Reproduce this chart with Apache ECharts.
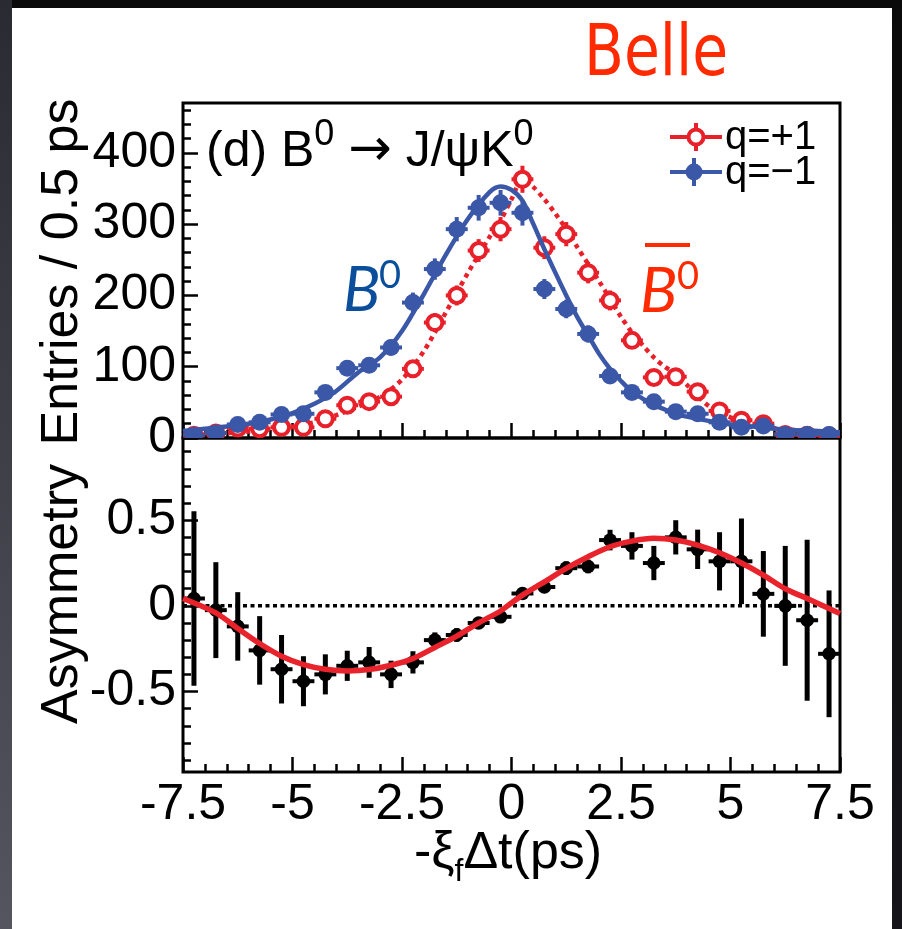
<!DOCTYPE html>
<html><head><meta charset="utf-8">
<script src="https://cdn.jsdelivr.net/npm/echarts@6/dist/echarts.min.js"></script>
<style>
html,body{margin:0;padding:0;width:902px;height:929px;overflow:hidden;background:#0c0c0c;}
#bg{position:absolute;left:0;top:0;width:902px;height:929px;background:linear-gradient(180deg,#0a0a0a 0%,#16161a 100%);}
#strip{position:absolute;left:0;top:0;width:12px;height:929px;background:linear-gradient(180deg,#2a2a32,#55555f);}
#panel{position:absolute;left:12px;top:8px;width:880px;height:921px;background:#fff;}
#chart{position:absolute;left:0;top:0;width:902px;height:929px;}
</style></head><body>
<div id="bg"></div><div id="strip"></div><div id="panel"></div><div id="chart"></div>
<script>
// ---- data ----
const binCenters = [-7.25,-6.75,-6.25,-5.75,-5.25,-4.75,-4.25,-3.75,-3.25,-2.75,-2.25,-1.75,-1.25,-0.75,-0.25,
                     0.25,0.75,1.25,1.75,2.25,2.75,3.25,3.75,4.25,4.75,5.25,5.75,6.25,6.75,7.25];
const binHalfWidth = 0.25;
const qPlus  = [4,7,14,13,15,15,27,46,51,58,97,162,200,263,293,363,267,286,232,193,137,85,86,65,38,25,20,5,4,3];
const qPlusErr  = [2,3,4,4,4,4,5,7,7,8,10,13,14,16,17,19,16,17,15,14,12,9,9,8,6,5,4,2,2,2];
const qMinus = [4,7,19,22,33,34,64,98,102,127,190,237,293,323,330,316,209,181,146,87,64,51,37,34,22,15,17,5,5,5];
const qMinusErr = [2,3,4,5,6,6,8,10,10,11,14,15,17,18,18,18,14,13,12,9,8,7,6,6,5,4,4,2,2,2];
const asym    = [0.043,-0.025,-0.12,-0.26,-0.37,-0.44,-0.40,-0.35,-0.33,-0.40,-0.33,-0.20,-0.17,-0.10,-0.064,
                 0.072,0.11,0.22,0.23,0.384,0.35,0.25,0.40,0.33,0.26,0.26,0.07,0.0,-0.084,-0.28];
const asymErr = [0.51,0.28,0.20,0.20,0.20,0.146,0.117,0.088,0.09,0.08,0.065,0.045,0.04,0.035,0.035,
                 0.03,0.035,0.04,0.04,0.06,0.08,0.10,0.10,0.115,0.17,0.25,0.25,0.35,0.47,0.37];
// fit curves
const fitX    = [-7.5,-7,-6.5,-6,-5.5,-5,-4.5,-4,-3.5,-3,-2.5,-2,-1.5,-1,-0.5,-0.25,0,0.25,0.5,0.75,
                 1,1.25,1.5,1.75,2,2.25,2.5,2.75,3,3.25,3.5,3.75,4,4.5,5,5.5,6,6.5,7,7.5];
const fitBlue = [10,13,16,20,26,35,48,66,92,113,150,202,257,307,345,353,348,333,300,265,
                 232,200,170,144,118,97,80,65,55,46,40,34,30,24,19,16,13,11,10,8];
const fitRed  = [4,5,7,9,12,16,22,32,44,58,82,122,176,231,282,305,335,362,352,335,
                 315,293,268,244,220,195,170,148,130,113,100,90,75,45,29,19,14,11,9,7];
const asymFitX = [-7.5,-6.75,-6.25,-5.75,-5.25,-4.75,-4.25,-3.75,-3.25,-2.75,-2.25,-1.75,-1.25,-0.75,-0.25,0,
                  0.25,0.75,1.25,1.75,2.25,2.75,3.25,3.75,4.25,4.75,5.25,5.75,6.25,6.75,7.25,7.5];
const asymFit  = [0.043,-0.041,-0.132,-0.22,-0.294,-0.343,-0.37,-0.38,-0.372,-0.347,-0.308,-0.243,-0.177,-0.099,-0.03,0.017,
                  0.063,0.14,0.219,0.287,0.345,0.378,0.394,0.384,0.355,0.31,0.25,0.18,0.10,0.043,-0.015,-0.045];
const zeroLevel = 0;
// ticks / labels
const timeTicks = [-7.5,-5,-2.5,0,2.5,5,7.5];
const entriesTicks = [0,100,200,300,400];
const asymTicks = [-0.5,0,0.5];

// ---- styling helpers ----
const FONT = 'Liberation Sans, Arial, Helvetica, sans-serif';
const BLUE = '#3b57a7', RED = '#e8202a', ASYMRED = '#e8232b';
const X_MIN = -7.5, X_MAX = 7.5;
const entriesMinor = []; for (let v = 20; v < 470; v += 20) entriesMinor.push(v);
const asymMinor = []; for (let k = -9; k <= 9; k++) asymMinor.push(k / 10);

function errItem(kind) {
  return function (params, api) {
    const x = api.value(0), y = api.value(1), e = api.value(2);
    const c = api.coord([x, y]);
    const l = api.coord([x - binHalfWidth, y]);
    const r = api.coord([x + binHalfWidth, y]);
    const t = api.coord([x, y + e]);
    const b = api.coord([x, y - e]);
    let col, lw, hw, circ;
    if (kind === 'red') { col = RED; lw = 4; hw = 4; circ = {r: 7.5, style: {fill: '#fff', stroke: RED, lineWidth: 4}}; }
    else if (kind === 'blue') { col = BLUE; lw = 4; hw = 4; circ = {r: 8.5, style: {fill: BLUE, stroke: null}}; }
    else { col = '#000'; lw = 5; hw = 4; circ = {r: 6.8, style: {fill: '#000', stroke: null}}; }
    return {type: 'group', children: [
      {type: 'line', shape: {x1: l[0], y1: c[1], x2: r[0], y2: c[1]}, style: {stroke: col, lineWidth: hw}},
      {type: 'line', shape: {x1: c[0], y1: t[1], x2: c[0], y2: b[1]}, style: {stroke: col, lineWidth: lw}},
      {type: 'circle', shape: {cx: c[0], cy: c[1], r: circ.r}, style: circ.style}
    ]};
  };
}

function xAxisCfg(grid, labels) {
  return {
    gridIndex: grid, type: 'value', min: X_MIN, max: X_MAX, interval: 2.5, position: 'bottom',
    axisLine: {show: false, onZero: false}, splitLine: {show: false}, minorSplitLine: {show: false},
    axisTick: {show: true, inside: true, length: 15, lineStyle: {color: '#000', width: 2.5}},
    minorTick: {show: true, splitNumber: 5, length: 8, lineStyle: {color: '#000', width: 2.5}},
    axisLabel: labels ? {show: true, customValues: timeTicks, fontSize: 50, color: '#000', fontFamily: FONT, margin: 8} : {show: false}
  };
}
function yAxisCfg(grid, min, max, tickVals, len, labelVals) {
  return {
    gridIndex: grid, type: 'value', min: min, max: max, position: 'left', offset: 0,
    axisLine: {show: false, onZero: false}, splitLine: {show: false}, minorSplitLine: {show: false},
    axisTick: {show: true, inside: true, length: len, customValues: tickVals, lineStyle: {color: '#000', width: 2.5}},
    axisLabel: labelVals ? {show: true, customValues: labelVals, fontSize: 50, color: '#000', fontFamily: FONT, margin: 7} : {show: false}
  };
}

const chart = echarts.init(document.getElementById('chart'), null, {renderer: 'canvas'});
chart.setOption({
  animation: false,
  backgroundColor: 'transparent',
  tooltip: {show: false},
  axisPointer: {show: false},
  grid: [
    {left: 183, top: 103, width: 657, height: 335, show: true, borderColor: '#000', borderWidth: 3, backgroundColor: 'transparent', containLabel: false, outerBoundsMode: 'none'},
    {left: 183, top: 438, width: 657, height: 334, show: true, borderColor: '#000', borderWidth: 3, backgroundColor: 'transparent', containLabel: false, outerBoundsMode: 'none'}
  ],
  xAxis: [xAxisCfg(0, false), xAxisCfg(1, true)],
  yAxis: [
    yAxisCfg(0, 0, 470, entriesMinor, 8, entriesTicks),
    yAxisCfg(1, -0.97, 0.98, asymMinor, 8, asymTicks),
    yAxisCfg(0, 0, 470, entriesTicks, 15, null),
    yAxisCfg(1, -0.97, 0.98, asymTicks, 15, null)
  ],
  series: [
    {type: 'line', xAxisIndex: 0, yAxisIndex: 0, data: fitX.map((x, i) => [x, fitRed[i]]), showSymbol: false, smooth: 0.3,
     lineStyle: {color: RED, width: 4.5, type: [4.5, 4.5]}, z: 2},
    {type: 'custom', xAxisIndex: 0, yAxisIndex: 0, clip: true, renderItem: errItem('red'), encode: {x: 0, y: 1},
     data: binCenters.map((x, i) => [x, qPlus[i], qPlusErr[i]]), z: 3},
    {type: 'line', xAxisIndex: 0, yAxisIndex: 0, data: fitX.map((x, i) => [x, fitBlue[i]]), showSymbol: false, smooth: 0.3,
     lineStyle: {color: BLUE, width: 4.5}, z: 4},
    {type: 'custom', xAxisIndex: 0, yAxisIndex: 0, clip: true, renderItem: errItem('blue'), encode: {x: 0, y: 1},
     data: binCenters.map((x, i) => [x, qMinus[i], qMinusErr[i]]), z: 5},
    {type: 'line', xAxisIndex: 1, yAxisIndex: 1, data: [[X_MIN, zeroLevel], [X_MAX, zeroLevel]], showSymbol: false,
     lineStyle: {color: '#000', width: 3.5, type: [4, 3.5]}, z: 2},
    {type: 'custom', xAxisIndex: 1, yAxisIndex: 1, clip: true, renderItem: errItem('black'), encode: {x: 0, y: 1},
     data: binCenters.map((x, i) => [x, asym[i], asymErr[i]]), z: 3},
    {type: 'line', xAxisIndex: 1, yAxisIndex: 1, data: asymFitX.map((x, i) => [x, asymFit[i]]), showSymbol: false, smooth: 0.3,
     lineStyle: {color: ASYMRED, width: 5.5}, z: 4}
  ],
  graphic: [
    {type: 'text', x: 656, y: 56, scaleX: 0.9, style: {x: 0, y: 0, text: 'Belle', fill: '#ff2a00', fontSize: 72,
      fontFamily: 'DejaVu Sans Condensed, DejaVu Sans, sans-serif', textAlign: 'center', textVerticalAlign: 'middle'}},
    {type: 'text', style: {x: 206, y: 147, textVerticalAlign: 'middle', textAlign: 'left', fill: '#000',
      text: '{n|(d) B}{s|0}{n| }{a|\u2192}{n| J/\u03C8K}{s|0}',
      rich: {n: {fontSize: 50, lineHeight: 60, fontFamily: FONT, fill: '#000', verticalAlign: 'bottom'},
             a: {fontSize: 52, lineHeight: 60, fontFamily: 'DejaVu Sans, sans-serif', fill: '#000', verticalAlign: 'bottom'},
             s: {fontSize: 36, lineHeight: 14, fontFamily: FONT, fill: '#000', verticalAlign: 'top'}}}},
    // legend
    {type: 'line', shape: {x1: 670, y1: 137, x2: 722, y2: 137}, style: {stroke: RED, lineWidth: 4}},
    {type: 'line', shape: {x1: 696, y1: 123, x2: 696, y2: 151}, style: {stroke: RED, lineWidth: 4}},
    {type: 'circle', shape: {cx: 696, cy: 137, r: 7.5}, style: {fill: '#fff', stroke: RED, lineWidth: 4}},
    {type: 'text', style: {x: 725, y: 138, text: 'q=+1', fontSize: 40, fontFamily: FONT, fill: '#000', textVerticalAlign: 'middle'}},
    {type: 'line', shape: {x1: 670, y1: 172, x2: 722, y2: 172}, style: {stroke: BLUE, lineWidth: 4}},
    {type: 'line', shape: {x1: 694, y1: 158, x2: 694, y2: 186}, style: {stroke: BLUE, lineWidth: 4}},
    {type: 'circle', shape: {cx: 694, cy: 172, r: 8.5}, style: {fill: BLUE}},
    {type: 'text', style: {x: 725, y: 173, text: 'q=\u22121', fontSize: 40, fontFamily: FONT, fill: '#000', textVerticalAlign: 'middle'}},
    // B0 labels
    {type: 'text', style: {x: 343, y: 291, text: 'B', fontSize: 62, fontStyle: 'italic', fontFamily: 'Lato, Open Sans, sans-serif', fill: '#0b4f9c', textVerticalAlign: 'middle'}},
    {type: 'text', style: {x: 379, y: 276, text: '0', fontSize: 38, fontFamily: 'Lato, Open Sans, sans-serif', fill: '#0b4f9c', textVerticalAlign: 'middle'}},
    {type: 'text', style: {x: 640, y: 292, text: 'B', fontSize: 62, fontStyle: 'italic', fontFamily: 'Lato, Open Sans, sans-serif', fill: '#ff2a00', textVerticalAlign: 'middle'}},
    {type: 'text', style: {x: 677, y: 277, text: '0', fontSize: 38, fontFamily: 'Lato, Open Sans, sans-serif', fill: '#ff2a00', textVerticalAlign: 'middle'}},
    {type: 'rect', shape: {x: 645, y: 243, width: 45, height: 4}, style: {fill: '#ff2a00'}},
    // axis titles
    {type: 'text', rotation: Math.PI / 2, x: 63, y: 272, style: {x: 0, y: 0, text: 'Entries / 0.5 ps', fontSize: 52, fontFamily: FONT, fill: '#000', textAlign: 'center', textVerticalAlign: 'middle'}},
    {type: 'text', rotation: Math.PI / 2, x: 63, y: 594, style: {x: 0, y: 0, text: 'Asymmetry', fontSize: 52, fontFamily: FONT, fill: '#000', textAlign: 'center', textVerticalAlign: 'middle'}},
    {type: 'text', style: {x: 508, y: 858, textAlign: 'center', textVerticalAlign: 'middle', fill: '#000',
      text: '{n|-\u03BE}{sub|f}{n|\u0394t(ps)}',
      rich: {n: {fontSize: 52, lineHeight: 60, fontFamily: FONT, fill: '#000', verticalAlign: 'top'},
             sub: {fontSize: 32, lineHeight: 22, fontFamily: FONT, fill: '#000', verticalAlign: 'bottom'}}}}
  ]
});
</script></body></html>
